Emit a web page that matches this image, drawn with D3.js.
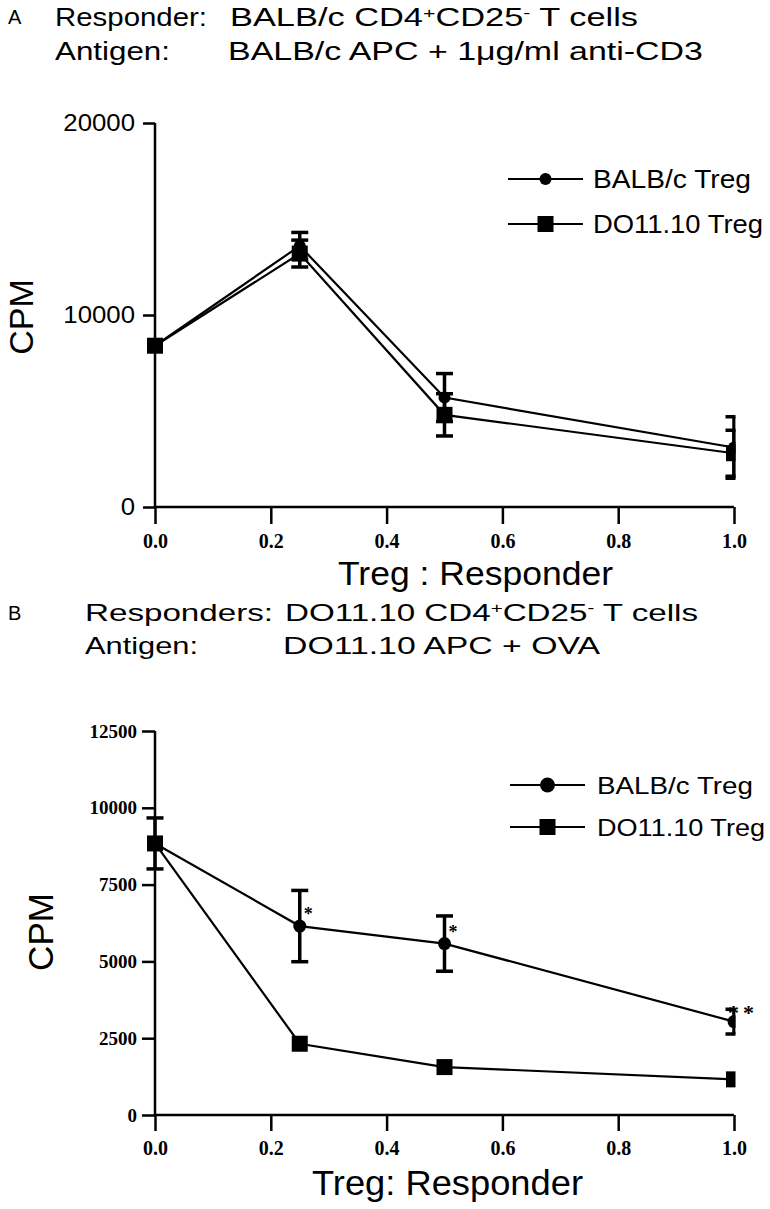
<!DOCTYPE html>
<html>
<head>
<meta charset="utf-8">
<script src="https://cdn.jsdelivr.net/npm/d3@7"></script>
<style>
  html, body { margin: 0; padding: 0; background: #fff; }
  svg { display: block; }
  .sans { font-family: "Liberation Sans", Arial, sans-serif; }
  .serif { font-family: "Liberation Serif", "Times New Roman", serif; font-weight: bold; }
</style>
</head>
<body>
<svg id="chart" width="770" height="1209"></svg>
<script>
// ---------- data ----------
const ratios = [0, 0.25, 0.5, 1.0];
const seriesNames = ["BALB/c Treg", "DO11.10 Treg"];

// Panel A (BALB/c responders, anti-CD3)
const aBalbMean = [8400, 13600, 5700, 3100];
const aBalbErr  = [0, 700, 1250, 1600];
const aDoMean   = [8400, 13200, 4800, 2800];
const aDoErr    = [0, 700, 1100, 1200];

// Panel B (DO11.10 responders, OVA)
const bBalbMean = [8840, 6150, 5580, 3040];
const bBalbErr  = [830, 1160, 900, 400];
const bDoMean   = [8840, 2320, 1560, 1160];
const bDoErr    = [0, 0, 0, 0];

const xTicks  = [0, 0.2, 0.4, 0.6, 0.8, 1.0];
const aYTicks = [0, 10000, 20000];
const bYTicks = [0, 2500, 5000, 7500, 10000, 12500];

// significance marks on BALB/c Treg in panel B
const bStars = [{x: 0.25, label: "*"}, {x: 0.5, label: "*"}, {x: 1.0, label: "**"}];

// ---------- helpers ----------
const svg = d3.select("#chart");
function fit(sel, len) {
  sel.attr("textLength", len).attr("lengthAdjust", "spacingAndGlyphs");
  return sel;
}
function stretchEach(sel, factor) {
  sel.each(function() {
    const w = this.getComputedTextLength();
    d3.select(this).attr("textLength", w * factor).attr("lengthAdjust", "spacingAndGlyphs");
  });
}

svg.append("defs").append("clipPath").attr("id", "plotclip")
  .append("rect").attr("x", 0).attr("y", 0).attr("width", 735.5).attr("height", 1209);

function title(x, y, parts, size, len) {
  const t = svg.append("text").attr("class", "sans").attr("x", x).attr("y", y)
    .attr("font-size", size).attr("fill", "#000");
  parts.forEach(p => {
    const ts = t.append("tspan").text(p.t);
    if (p.sup) ts.attr("font-size", size * 0.62).attr("baseline-shift", "super");
  });
  if (len) fit(t, len);
  return t;
}

function panel(cfg) {
  const x = d3.scaleLinear().domain([0, 1]).range([155, 734]);
  const y = d3.scaleLinear().domain(cfg.yDomain).range(cfg.yRange);
  const g = svg.append("g");

  // axes
  const yAxis = d3.axisLeft(y).tickValues(cfg.yTicks).tickSize(cfg.yTickSize).tickPadding(cfg.yPad)
    .tickFormat(d3.format("d"));
  const ya = g.append("g").attr("transform", "translate(155,0)").call(yAxis);
  ya.select(".domain").attr("stroke-width", 2.5).attr("d", `M-0,${y(cfg.yDomain[1])}V${cfg.yRange[0]}`);
  ya.selectAll(".tick line").attr("stroke-width", 2.5);
  ya.selectAll("text").attr("class", cfg.yFontClass).attr("font-size", cfg.yFontSize).attr("fill", "#000");
  if (cfg.yStretch) stretchEach(ya.selectAll("text"), cfg.yStretch);

  const xAxis = d3.axisBottom(x).tickValues(xTicks).tickSize(cfg.xTickSize).tickFormat(d3.format(".1f"));
  const xa = g.append("g").attr("transform", `translate(0,${cfg.yRange[0]})`).call(xAxis);
  xa.select(".domain").attr("stroke-width", 2.5).attr("d", `M155,0H734`);
  xa.selectAll(".tick line").attr("stroke-width", 2.5);
  xa.selectAll("text").attr("class", "serif").attr("font-size", 20).attr("fill", "#000")
    .attr("y", cfg.xLabelY).attr("dy", 0);
  ya.attr("font-family", null); xa.attr("font-family", null);

  // axis titles
  g.append("text").attr("class", "sans").attr("font-size", cfg.cpmSize)
    .attr("transform", `translate(${cfg.cpmX},${cfg.cpmY}) rotate(-90)`)
    .attr("text-anchor", "middle").text("CPM");
  fit(g.append("text").attr("class", "sans").attr("font-size", cfg.xtSize)
    .attr("x", cfg.xtX).attr("y", cfg.xtY).text(cfg.xTitle), cfg.xtLen);

  // data
  const dg = g.append("g").attr("clip-path", "url(#plotclip)");
  const line = d3.line().x(d => x(d.x)).y(d => y(d.m));
  cfg.series.forEach(s => {
    const pts = ratios.map((r, i) => ({x: r, m: s.mean[i], e: s.err[i]}));
    dg.append("path").datum(pts).attr("d", line).attr("fill", "none")
      .attr("stroke", "#000").attr("stroke-width", 2.2);
    s.pts = pts;
  });
  cfg.series.forEach(s => {
    const eb = dg.append("g");
    s.pts.filter(d => d.e > 0).forEach(d => {
      const cx = x(d.x), y1 = y(d.m + d.e), y2 = y(d.m - d.e);
      eb.append("line").attr("x1", cx).attr("x2", cx).attr("y1", y1).attr("y2", y2)
        .attr("stroke", "#000").attr("stroke-width", 3.5);
      [y1, y2].forEach(yy => eb.append("line").attr("x1", cx - 8.5).attr("x2", cx + 8.5)
        .attr("y1", yy).attr("y2", yy).attr("stroke", "#000").attr("stroke-width", 3.5));
    });
  });
  cfg.series.forEach(s => {
    s.pts.forEach(d => {
      if (s.shape === "circle") {
        dg.append("circle").attr("cx", x(d.x)).attr("cy", y(d.m)).attr("r", cfg.circleR).attr("fill", "#000");
      } else {
        dg.append("rect").attr("x", x(d.x) - 8).attr("y", y(d.m) - 8)
          .attr("width", 16).attr("height", 16).attr("fill", "#000");
      }
    });
  });

  // legend
  const lg = g.append("g");
  cfg.series.forEach((s, i) => {
    const ly = cfg.legY[i];
    lg.append("line").attr("x1", cfg.legX1).attr("x2", cfg.legX2).attr("y1", ly).attr("y2", ly)
      .attr("stroke", "#000").attr("stroke-width", 2.2);
    const mx = (cfg.legX1 + cfg.legX2) / 2;
    if (s.shape === "circle") {
      lg.append("circle").attr("cx", mx).attr("cy", ly).attr("r", cfg.legCircleR).attr("fill", "#000");
    } else {
      lg.append("rect").attr("x", mx - 8).attr("y", ly - 8).attr("width", 16).attr("height", 16).attr("fill", "#000");
    }
    fit(lg.append("text").attr("class", "sans").attr("font-size", cfg.legFont)
      .attr("x", cfg.legTextX).attr("y", ly + cfg.legFont * 0.36).text(s.name), cfg.legLen[i]);
  });
  return {x, y, g};
}

// ---------- panel A ----------
svg.append("text").attr("class", "sans").attr("x", 8).attr("y", 24).attr("font-size", 20).text("A");
title(55, 26, [{t: "Responder:"}], 25, 152);
title(230, 26, [{t: "BALB/c CD4"}, {t: "+", sup: true}, {t: "CD25"}, {t: "-", sup: true}, {t: " T cells"}], 25, 408);
title(55, 60, [{t: "Antigen:"}], 25, 115);
title(228, 60, [{t: "BALB/c APC + 1\u03BCg/ml anti-CD3"}], 25, 475);

panel({
  yDomain: [0, 20000], yRange: [507, 123], yTicks: aYTicks, yTickSize: 12, yPad: 8,
  yFontClass: "sans", yFontSize: 23, yStretch: 1.12,
  xTickSize: 17, xLabelY: 41,
  cpmX: 33, cpmY: 317, cpmSize: 34,
  xTitle: "Treg : Responder", xtX: 338, xtY: 585, xtSize: 33, xtLen: 275,
  circleR: 6, legCircleR: 6,
  series: [
    {name: seriesNames[0], mean: aBalbMean, err: aBalbErr, shape: "circle"},
    {name: seriesNames[1], mean: aDoMean, err: aDoErr, shape: "square"}
  ],
  legY: [179, 224], legX1: 508, legX2: 583, legTextX: 593, legFont: 25, legLen: [158, 170]
});

// ---------- panel B ----------
svg.append("text").attr("class", "sans").attr("x", 8).attr("y", 620).attr("font-size", 20).text("B");
title(85, 621, [{t: "Responders:"}], 24, 188);
title(285, 621, [{t: "DO11.10 CD4"}, {t: "+", sup: true}, {t: "CD25"}, {t: "-", sup: true}, {t: " T cells"}], 24, 413);
title(85, 654, [{t: "Antigen:"}], 24, 113);
title(283, 654, [{t: "DO11.10 APC + OVA"}], 24, 317);

const pB = panel({
  yDomain: [0, 12500], yRange: [1115, 731], yTicks: bYTicks, yTickSize: 13, yPad: 5,
  yFontClass: "serif", yFontSize: 19, yStretch: null,
  xTickSize: 16, xLabelY: 40,
  cpmX: 53, cpmY: 932, cpmSize: 35,
  xTitle: "Treg: Responder", xtX: 312, xtY: 1195, xtSize: 35, xtLen: 271,
  circleR: 6.5, legCircleR: 7.5,
  series: [
    {name: seriesNames[0], mean: bBalbMean, err: bBalbErr, shape: "circle"},
    {name: seriesNames[1], mean: bDoMean, err: bDoErr, shape: "square"}
  ],
  legY: [785, 827], legX1: 510, legX2: 585, legTextX: 597, legFont: 24, legLen: [156, 168]
});

// significance asterisks
bStars.forEach(s => {
  const i = ratios.indexOf(s.x);
  const cx = pB.x(s.x), cy = pB.y(bBalbMean[i]);
  pB.g.append("text").attr("class", "serif").attr("font-weight", "normal")
    .attr("font-size", s.label.length > 1 ? 22 : 18)
    .attr("x", s.label.length > 1 ? cx - 6 : cx + 4)
    .attr("y", s.label.length > 1 ? cy - 2 : cy - 6)
    .attr("letter-spacing", s.label.length > 1 ? 4 : 0)
    .text(s.label);
});
</script>
</body>
</html>
